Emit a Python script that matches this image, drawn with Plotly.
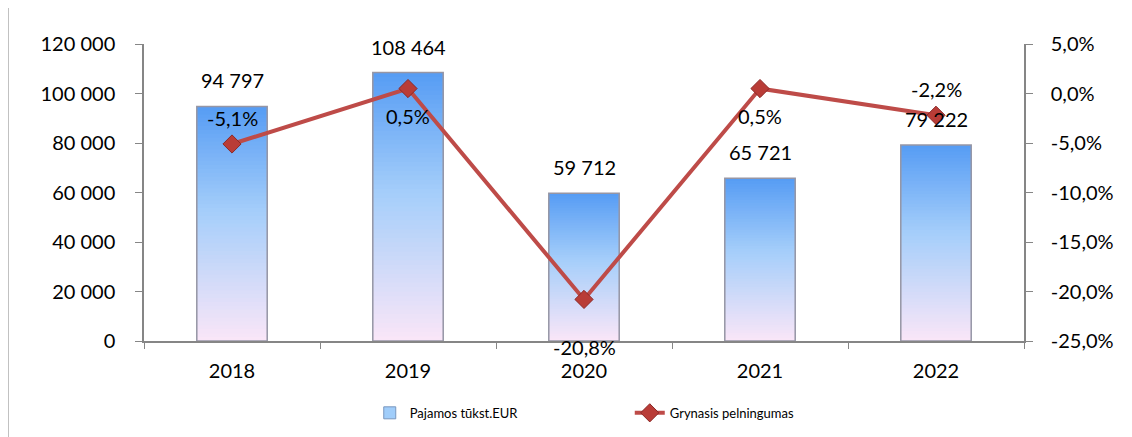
import plotly.graph_objects as go

# data
years = ["2018", "2019", "2020", "2021", "2022"]
revenue = [94797, 108464, 59712, 65721, 79222]
margin_pct = [-5.1, 0.5, -20.8, 0.5, -2.2]

left_ticks = [0, 20000, 40000, 60000, 80000, 100000, 120000]
right_ticks = [-25, -20, -15, -10, -5, 0, 5]


def fmt_thousands(v):
    return f"{v:,}".replace(",", " ")


def fmt_pct(v):
    return f"{v:.1f}%".replace(".", ",")


FONT = "Lato"
FS = 20
AXIS_GREY = "rgb(134,134,134)"
LINE_RED = "rgb(190,75,72)"

# gradient stops (top -> bottom) for the bar fill
stops = [(0.0, (86, 156, 244)), (0.45, (165, 206, 250)), (1.0, (250, 230, 248))]


def grad_color(t):
    for (t0, c0), (t1, c1) in zip(stops[:-1], stops[1:]):
        if t <= t1:
            f = (t - t0) / (t1 - t0)
            return "rgb(%d,%d,%d)" % tuple(round(a + (b - a) * f) for a, b in zip(c0, c1))
    return "rgb(%d,%d,%d)" % stops[-1][1]


fig = go.Figure()

# gradient bars: nested bars from the base, tallest first, each shorter one on top
N = 60
for k in range(N):
    fig.add_trace(go.Bar(
        x=years,
        y=[v * (N - k) / N for v in revenue],
        marker=dict(color=grad_color((k + 0.5) / N), line=dict(width=0)),
        showlegend=False,
        hoverinfo="skip",
    ))

# outline + legend entry for the bars
fig.add_trace(go.Bar(
    x=years,
    y=revenue,
    name="Pajamos tūkst.EUR",
    marker=dict(color="rgba(0,0,0,0)", line=dict(color="rgb(150,150,165)", width=1.5)),
    showlegend=False,
))
fig.add_trace(go.Bar(
    x=years,
    y=[None] * len(years),
    name="Pajamos tūkst.EUR",
    marker=dict(color="rgb(160,205,250)", line=dict(color="rgb(120,150,190)", width=1)),
))

fig.add_trace(go.Scatter(
    x=years,
    y=margin_pct,
    yaxis="y2",
    name="Grynasis pelningumas",
    mode="lines+markers",
    line=dict(color=LINE_RED, width=4),
    marker=dict(symbol="diamond", size=14, color="rgb(185,60,55)",
                line=dict(color="rgb(140,40,38)", width=1)),
))

# data labels (category axis -> annotation x is the category index)
for i, v in enumerate(revenue):
    fig.add_annotation(x=i, y=v, yref="y", text=fmt_thousands(v), showarrow=False,
                       yshift=26, font=dict(family=FONT, size=FS, color="black"))

pct_shift = [26, -27, -48, -27, 26]
for i, (v, s) in enumerate(zip(margin_pct, pct_shift)):
    fig.add_annotation(x=i, y=v, yref="y2", text=fmt_pct(v), showarrow=False,
                       yshift=s, font=dict(family=FONT, size=FS, color="black"))

# outer chart border
fig.add_shape(type="rect", xref="paper", yref="paper",
              x0=-135 / 872, x1=(1140 - 144) / 872,
              y0=-(445 - 341) / 297, y1=1 + 37 / 297,
              line=dict(color="rgb(134,134,134)", width=1.5), layer="below")

fig.update_layout(
    width=1124,
    height=429,
    margin=dict(l=136, r=108, t=36, b=96, autoexpand=False),
    barmode="overlay",
    bargap=0.6,
    plot_bgcolor="white",
    paper_bgcolor="white",
    font=dict(family=FONT, size=FS, color="black"),
    xaxis=dict(
        type="category", range=[-0.5, len(years) - 0.5],
        showline=True, linecolor=AXIS_GREY, linewidth=1.5,
        ticks="outside", tickson="boundaries", ticklen=6, tickcolor=AXIS_GREY,
        ticklabelstandoff=11, showgrid=False, automargin=False,
    ),
    yaxis=dict(
        range=[0, 120000], tickvals=left_ticks,
        ticktext=[fmt_thousands(v) for v in left_ticks],
        showline=True, linecolor=AXIS_GREY, linewidth=1.5,
        ticks="outside", ticklen=7, tickcolor=AXIS_GREY,
        ticklabelstandoff=16, showgrid=False, zeroline=False, automargin=False,
    ),
    yaxis2=dict(
        range=[-25, 5], tickvals=right_ticks,
        ticktext=[fmt_pct(v) for v in right_ticks],
        overlaying="y", side="right",
        showline=True, linecolor=AXIS_GREY, linewidth=1.5,
        ticks="outside", ticklen=7, tickcolor=AXIS_GREY,
        ticklabelstandoff=14, showgrid=False, zeroline=False, automargin=False,
    ),
    legend=dict(
        orientation="h", x=0.552, xanchor="center", y=-0.242, yanchor="middle",
        font=dict(family=FONT, size=13), entrywidth=215,
    ),
)

fig.write_html("out.html")
